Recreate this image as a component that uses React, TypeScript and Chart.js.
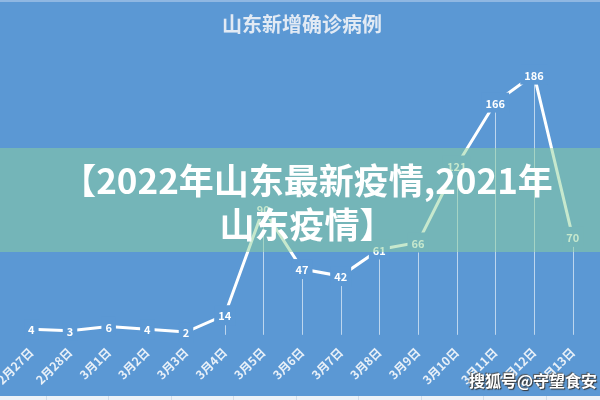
import React, { useEffect, useRef } from "react";
import { Chart, registerables, Plugin } from "chart.js";

Chart.register(...registerables);

const dates = [
  "2月27日", "2月28日", "3月1日", "3月2日", "3月3日", "3月4日", "3月5日", "3月6日",
  "3月7日", "3月8日", "3月9日", "3月10日", "3月11日", "3月12日", "3月13日",
];
// 3月5日 is hidden behind the banner, estimated from the line
const newCases = [4, 3, 6, 4, 2, 14, 90, 47, 42, 61, 66, 121, 166, 186, 70];
const yMin = 0;
const yMax = 200;

const BLUE = "#5b98d4";
const FONT = '"Noto Sans CJK SC", "Noto Sans", sans-serif';

// thin lines from every point down to the axis
const dropLines: Plugin = {
  id: "dropLines",
  beforeDatasetsDraw(chart) {
    const { ctx, chartArea } = chart;
    const meta = chart.getDatasetMeta(0);
    ctx.save();
    ctx.strokeStyle = "rgba(255,255,255,0.6)";
    ctx.lineWidth = 1;
    meta.data.forEach((pt) => {
      const x = Math.round(pt.x) + 0.5;
      ctx.beginPath();
      ctx.moveTo(x, pt.y);
      ctx.lineTo(x, chartArea.bottom);
      ctx.stroke();
    });
    ctx.restore();
  },
};

// value labels centred on the points, boxed in the plot colour
const valueLabels: Plugin = {
  id: "valueLabels",
  afterDatasetsDraw(chart) {
    const { ctx } = chart;
    const meta = chart.getDatasetMeta(0);
    ctx.save();
    ctx.font = `bold 11px ${FONT}`;
    ctx.textAlign = "center";
    ctx.textBaseline = "middle";
    meta.data.forEach((pt, i) => {
      const text = String(newCases[i]);
      const w = ctx.measureText(text).width + 8;
      const h = 20;
      ctx.fillStyle = BLUE;
      ctx.fillRect(pt.x - w / 2, pt.y - h / 2, w, h);
      ctx.fillStyle = "#ffffff";
      ctx.fillText(text, pt.x, pt.y + 1);
    });
    ctx.restore();
  },
};

export default function App() {
  const canvasRef = useRef<HTMLCanvasElement | null>(null);

  useEffect(() => {
    if (!canvasRef.current) {
      return;
    }
    const chart = new Chart(canvasRef.current, {
      type: "line",
      data: {
        labels: dates,
        datasets: [
          {
            data: newCases,
            borderColor: "#ffffff",
            borderWidth: 3,
            pointRadius: 0,
            tension: 0,
            fill: false,
          },
        ],
      },
      options: {
        animation: false,
        responsive: true,
        maintainAspectRatio: false,
        layout: { padding: { left: 12, right: 8, top: 12, bottom: 3 } },
        plugins: {
          legend: { display: false },
          tooltip: { enabled: false },
          title: {
            display: true,
            text: "山东新增确诊病例",
            color: "#e2eaf4",
            font: { family: FONT, size: 20, weight: "bold" },
            padding: { top: 0, bottom: 19 },
          },
        },
        scales: {
          x: {
            offset: true,
            grid: { display: false, drawTicks: false },
            border: { display: false },
            ticks: {
              color: "#e8f0f8",
              font: { family: FONT, size: 12, weight: "bold" },
              minRotation: 45,
              maxRotation: 45,
              autoSkip: false,
              padding: 10,
            },
            afterFit: (scale: any) => {
              scale.paddingLeft = 0;
              scale.paddingRight = 0;
            },
          },
          y: { display: false, min: yMin, max: yMax },
        },
      },
      plugins: [dropLines, valueLabels],
    });
    return () => {
      chart.destroy();
    };
  }, []);

  return (
    <div
      style={{
        position: "fixed",
        top: 0,
        left: 0,
        width: 600,
        height: 400,
        background: BLUE,
        overflow: "hidden",
        fontFamily: FONT,
      }}
    >
      <div style={{ position: "absolute", top: 0, left: 0, width: 600, height: 2, background: "#8fb7e2" }} />
      <div style={{ position: "relative", width: 600, height: 400 }}>
        <canvas ref={canvasRef}></canvas>
      </div>
      {/* banner laid over the chart */}
      <div
        style={{
          position: "absolute",
          top: 148,
          left: 0,
          width: 600,
          height: 104,
          background: "rgba(141,210,156,0.5)",
        }}
      />
      <div
        style={{
          position: "absolute",
          top: 157,
          left: 17,
          width: 580,
          textAlign: "center",
          fontSize: 35,
          fontWeight: "bold",
          lineHeight: "44px",
          color: "#ffffff",
        }}
      >
        【2022年山东最新疫情,2021年
        <br />
        山东疫情】
      </div>
      <div
        style={{
          position: "absolute",
          top: 368,
          right: 3,
          fontSize: 16,
          fontWeight: "bold",
          color: "#ffffff",
          textShadow: "1px 1px 1px #333, -1px -1px 1px #555",
        }}
      >
        搜狐号@守望食安
      </div>
      <div
        style={{
          position: "absolute",
          top: 396,
          left: 0,
          width: 600,
          height: 4,
          background:
            "repeating-linear-gradient(90deg, #eef3f8 0px, #eef3f8 46px, #d4dde8 46px, #d4dde8 47px, #eef3f8 47px, #eef3f8 62.5px)",
        }}
      />
    </div>
  );
}
